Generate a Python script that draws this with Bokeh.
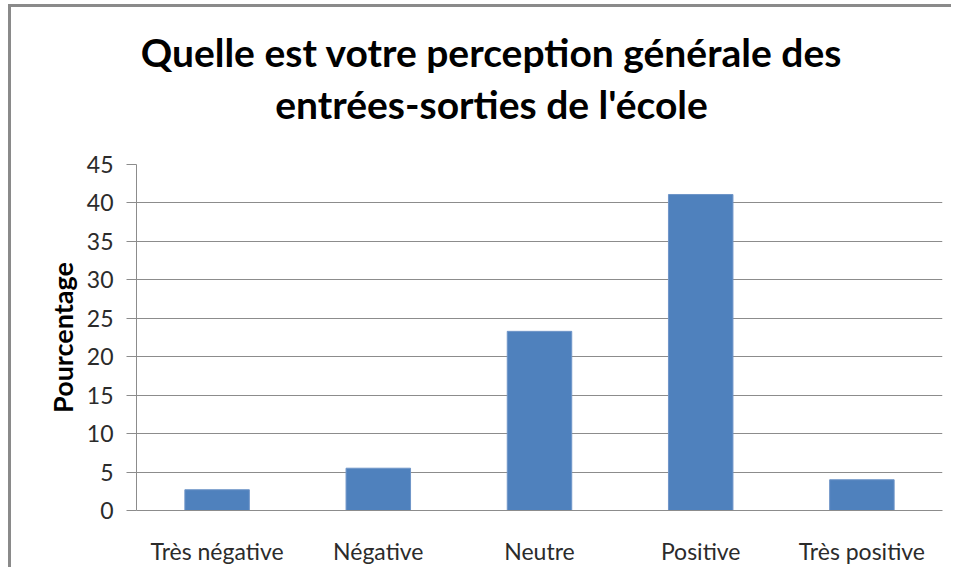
from bokeh.plotting import figure
from bokeh.layouts import column
from bokeh.models import FactorRange, Range1d, FixedTicker
from bokeh.core.properties import value
from bokeh.embed import file_html
from bokeh.resources import INLINE

categories = ["Très négative", "Négative", "Neutre", "Positive", "Très positive"]
values = [2.7, 5.5, 23.3, 41.1, 4.0]
y_ticks = [0, 5, 10, 15, 20, 25, 30, 35, 40, 45]
title_lines = ["Quelle est votre perception générale des", "entrées-sorties de l'école"]
y_label = "Pourcentage"

# ---- title strip (pixel coordinates) ----
tf = figure(width=940, height=141, x_range=Range1d(0, 940), y_range=Range1d(0, 141),
            x_axis_location=None, y_axis_location=None,
            min_border=0, min_border_left=0, min_border_right=0, min_border_top=0, min_border_bottom=0,
            output_backend="svg", toolbar_location=None)
tf.grid.grid_line_color = None
tf.outline_line_color = None
tf.text(x=[414, 414], y=[97, 45], text=title_lines, text_align="center",
        text_baseline="alphabetic", text_font=value("Lato"), text_font_size="39px",
        text_font_style="bold", text_color="#000000")

# ---- bar chart ----
p = figure(
    x_range=FactorRange(*categories, range_padding=0),
    y_range=Range1d(0, 45),
    width=940, height=419,
    min_border_left=125, min_border_right=9, min_border_top=16, min_border_bottom=52,
    output_backend="svg", toolbar_location=None,
)

p.vbar(x=categories, top=values, width=0.4, fill_color="#4F81BD", line_color="#6f95c8", line_width=1)

p.outline_line_color = None
p.background_fill_color = "white"
p.border_fill_color = "white"

p.xgrid.grid_line_color = None
p.ygrid.grid_line_color = "#8c8c8c"
p.ygrid.grid_line_width = 1
p.ygrid.ticker = FixedTicker(ticks=y_ticks)

p.yaxis.ticker = FixedTicker(ticks=y_ticks)
p.yaxis.axis_line_color = "#8c8c8c"
p.yaxis.major_tick_line_color = "#8c8c8c"
p.yaxis.major_tick_out = 10
p.yaxis.major_tick_in = 0
p.yaxis.minor_tick_line_color = None
p.yaxis.major_label_text_font = "Lato"
p.yaxis.major_label_text_font_size = "23px"
p.yaxis.major_label_text_color = "#2b2b2b"
p.yaxis.major_label_standoff = 13
p.yaxis.axis_label = y_label
p.yaxis.axis_label_text_font = "Lato"
p.yaxis.axis_label_text_font_size = "27px"
p.yaxis.axis_label_text_font_style = "bold"
p.yaxis.axis_label_text_color = "#000000"
p.yaxis.axis_label_standoff = 5

p.xaxis.axis_line_color = "#8c8c8c"
p.xaxis.major_tick_line_color = None
p.xaxis.minor_tick_line_color = None
p.xaxis.major_label_text_font = "Lato"
p.xaxis.major_label_text_font_size = "23px"
p.xaxis.major_label_text_color = "#2b2b2b"
p.xaxis.major_label_standoff = 20

layout = column(tf, p, spacing=0)
layout.styles = {"border-left": "3px solid #8a8a8a", "border-top": "3px solid #8a8a8a",
                 "margin-left": "8px", "margin-top": "4px"}

open("out.html", "w").write(file_html(layout, INLINE))
